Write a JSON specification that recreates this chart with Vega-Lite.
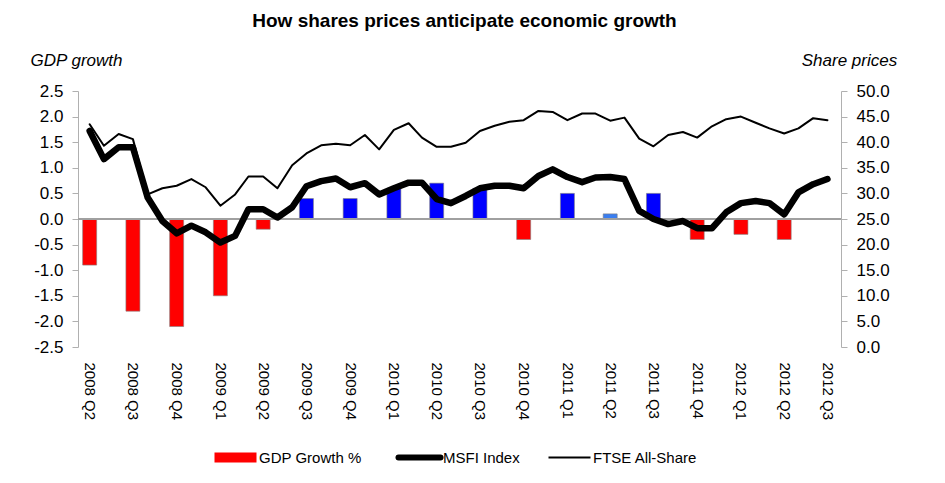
{
  "$schema": "https://vega.github.io/schema/vega-lite/v6.json",
  "width": 763,
  "height": 256,
  "padding": {"left": 29, "top": 12, "right": 10, "bottom": 5},
  "background": "white",
  "config": {
    "view": {"stroke": null},
    "font": "Liberation Sans",
    "locale": {"number": {"decimal": ".", "thousands": ",", "grouping": [3], "currency": ["", ""], "minus": "-"}},
    "axis": {"labelColor": "black", "titleColor": "black", "grid": false},
    "axisY": {
      "labelOverlap": false,
      "labelFlush": false,
      "domainColor": "#b0b0b0",
      "tickColor": "#b0b0b0",
      "tickSize": 6,
      "labelPadding": 9,
      "labelFont": "Liberation Sans",
      "labelFontSize": 17,
      "titleFont": "Liberation Sans",
      "titleFontSize": 17,
      "titleFontStyle": "italic",
      "titleFontWeight": "normal",
      "titleAngle": 0,
      "titleAlign": "center",
      "titleBaseline": "alphabetic"
    }
  },
  "title": {
    "text": "How shares prices anticipate economic growth",
    "font": "Liberation Sans",
    "fontSize": 19,
    "fontWeight": "bold",
    "color": "black",
    "offset": 20,
    "dx": 5
  },
  "datasets": {
    "gdp": [
      {"date": "2008-04-01T00:00:00", "gdp": -0.9},
      {"date": "2008-07-01T00:00:00", "gdp": -1.8},
      {"date": "2008-10-01T00:00:00", "gdp": -2.1},
      {"date": "2009-01-01T00:00:00", "gdp": -1.5},
      {"date": "2009-04-01T00:00:00", "gdp": -0.2},
      {"date": "2009-07-01T00:00:00", "gdp": 0.4},
      {"date": "2009-10-01T00:00:00", "gdp": 0.4},
      {"date": "2010-01-01T00:00:00", "gdp": 0.6},
      {"date": "2010-04-01T00:00:00", "gdp": 0.7},
      {"date": "2010-07-01T00:00:00", "gdp": 0.6},
      {"date": "2010-10-01T00:00:00", "gdp": -0.4},
      {"date": "2011-01-01T00:00:00", "gdp": 0.5},
      {"date": "2011-04-01T00:00:00", "gdp": 0.1},
      {"date": "2011-07-01T00:00:00", "gdp": 0.5},
      {"date": "2011-10-01T00:00:00", "gdp": -0.4},
      {"date": "2012-01-01T00:00:00", "gdp": -0.3},
      {"date": "2012-04-01T00:00:00", "gdp": -0.4}
    ],
    "prices": [
      {"date": "2008-04-01T00:00:00", "MSFI Index": 42.2, "FTSE All-Share": 43.5},
      {"date": "2008-05-01T00:00:00", "MSFI Index": 36.7, "FTSE All-Share": 39.3},
      {"date": "2008-06-01T00:00:00", "MSFI Index": 39.0, "FTSE All-Share": 41.6},
      {"date": "2008-07-01T00:00:00", "MSFI Index": 39.0, "FTSE All-Share": 40.6},
      {"date": "2008-08-01T00:00:00", "MSFI Index": 29.2, "FTSE All-Share": 29.8},
      {"date": "2008-09-01T00:00:00", "MSFI Index": 24.6, "FTSE All-Share": 31.0},
      {"date": "2008-10-01T00:00:00", "MSFI Index": 22.2, "FTSE All-Share": 31.5},
      {"date": "2008-11-01T00:00:00", "MSFI Index": 23.7, "FTSE All-Share": 32.8},
      {"date": "2008-12-01T00:00:00", "MSFI Index": 22.4, "FTSE All-Share": 31.2},
      {"date": "2009-01-01T00:00:00", "MSFI Index": 20.4, "FTSE All-Share": 27.6},
      {"date": "2009-02-01T00:00:00", "MSFI Index": 21.7, "FTSE All-Share": 29.8},
      {"date": "2009-03-01T00:00:00", "MSFI Index": 26.9, "FTSE All-Share": 33.3},
      {"date": "2009-04-01T00:00:00", "MSFI Index": 26.9, "FTSE All-Share": 33.3},
      {"date": "2009-05-01T00:00:00", "MSFI Index": 25.3, "FTSE All-Share": 31.0},
      {"date": "2009-06-01T00:00:00", "MSFI Index": 27.3, "FTSE All-Share": 35.5},
      {"date": "2009-07-01T00:00:00", "MSFI Index": 31.4, "FTSE All-Share": 37.8},
      {"date": "2009-08-01T00:00:00", "MSFI Index": 32.4, "FTSE All-Share": 39.4},
      {"date": "2009-09-01T00:00:00", "MSFI Index": 32.9, "FTSE All-Share": 39.7},
      {"date": "2009-10-01T00:00:00", "MSFI Index": 31.2, "FTSE All-Share": 39.4},
      {"date": "2009-11-01T00:00:00", "MSFI Index": 32.0, "FTSE All-Share": 41.4},
      {"date": "2009-12-01T00:00:00", "MSFI Index": 29.8, "FTSE All-Share": 38.6},
      {"date": "2010-01-01T00:00:00", "MSFI Index": 31.0, "FTSE All-Share": 42.4},
      {"date": "2010-02-01T00:00:00", "MSFI Index": 32.1, "FTSE All-Share": 43.7},
      {"date": "2010-03-01T00:00:00", "MSFI Index": 32.1, "FTSE All-Share": 40.9},
      {"date": "2010-04-01T00:00:00", "MSFI Index": 28.9, "FTSE All-Share": 39.1},
      {"date": "2010-05-01T00:00:00", "MSFI Index": 28.1, "FTSE All-Share": 39.1},
      {"date": "2010-06-01T00:00:00", "MSFI Index": 29.5, "FTSE All-Share": 39.9},
      {"date": "2010-07-01T00:00:00", "MSFI Index": 31.0, "FTSE All-Share": 42.2},
      {"date": "2010-08-01T00:00:00", "MSFI Index": 31.5, "FTSE All-Share": 43.2},
      {"date": "2010-09-01T00:00:00", "MSFI Index": 31.5, "FTSE All-Share": 44.0},
      {"date": "2010-10-01T00:00:00", "MSFI Index": 31.0, "FTSE All-Share": 44.3},
      {"date": "2010-11-01T00:00:00", "MSFI Index": 33.4, "FTSE All-Share": 46.1},
      {"date": "2010-12-01T00:00:00", "MSFI Index": 34.7, "FTSE All-Share": 45.9},
      {"date": "2011-01-01T00:00:00", "MSFI Index": 33.2, "FTSE All-Share": 44.3},
      {"date": "2011-02-01T00:00:00", "MSFI Index": 32.2, "FTSE All-Share": 45.6},
      {"date": "2011-03-01T00:00:00", "MSFI Index": 33.1, "FTSE All-Share": 45.6},
      {"date": "2011-04-01T00:00:00", "MSFI Index": 33.2, "FTSE All-Share": 44.2},
      {"date": "2011-05-01T00:00:00", "MSFI Index": 32.8, "FTSE All-Share": 44.8},
      {"date": "2011-06-01T00:00:00", "MSFI Index": 26.6, "FTSE All-Share": 40.7},
      {"date": "2011-07-01T00:00:00", "MSFI Index": 25.0, "FTSE All-Share": 39.2},
      {"date": "2011-08-01T00:00:00", "MSFI Index": 24.0, "FTSE All-Share": 41.4},
      {"date": "2011-09-01T00:00:00", "MSFI Index": 24.6, "FTSE All-Share": 42.0},
      {"date": "2011-10-01T00:00:00", "MSFI Index": 23.2, "FTSE All-Share": 40.9},
      {"date": "2011-11-01T00:00:00", "MSFI Index": 23.2, "FTSE All-Share": 43.1},
      {"date": "2011-12-01T00:00:00", "MSFI Index": 26.3, "FTSE All-Share": 44.5},
      {"date": "2012-01-01T00:00:00", "MSFI Index": 28.1, "FTSE All-Share": 45.0},
      {"date": "2012-02-01T00:00:00", "MSFI Index": 28.5, "FTSE All-Share": 43.8},
      {"date": "2012-03-01T00:00:00", "MSFI Index": 28.1, "FTSE All-Share": 42.7},
      {"date": "2012-04-01T00:00:00", "MSFI Index": 25.9, "FTSE All-Share": 41.7},
      {"date": "2012-05-01T00:00:00", "MSFI Index": 30.2, "FTSE All-Share": 42.7},
      {"date": "2012-06-01T00:00:00", "MSFI Index": 31.8, "FTSE All-Share": 44.7},
      {"date": "2012-07-01T00:00:00", "MSFI Index": 32.8, "FTSE All-Share": 44.3}
    ]
  },
  "layer": [
    {
      "data": {"name": "gdp"},
      "layer": [
        {
          "mark": {"type": "bar", "size": 14, "stroke": "#7f7f7f", "strokeWidth": 0.6},
          "encoding": {
            "x": {
              "field": "date",
              "type": "temporal",
              "scale": {"domain": [{"year": 2008, "month": 3, "date": 18}, {"year": 2012, "month": 7, "date": 19}]},
              "axis": {
                "format": "%Y Q%q",
                "tickCount": {"interval": "month", "step": 3},
                "labelAngle": 90,
                "domain": false,
                "ticks": false,
                "grid": false,
                "title": null,
                "labelFont": "Liberation Sans",
                "labelFontSize": 15,
                "labelPadding": 15,
                "labelOverlap": false,
                "labelFlush": false
              }
            },
            "y": {
              "field": "gdp",
              "type": "quantitative",
              "scale": {"domain": [-2.5, 2.5], "nice": false, "zero": false},
              "axis": {
                "values": [-2.5, -2, -1.5, -1, -0.5, 0, 0.5, 1, 1.5, 2, 2.5],
                "format": ".1f",
                "title": "GDP growth",
                "titleX": -2,
                "titleY": -26
              }
            },
            "color": {
              "condition": [
                {"test": "datum.gdp < 0", "value": "#FF0000"},
                {"test": "datum.gdp < 0.2", "value": "#3A7EF0"}
              ],
              "value": "#0000FF"
            }
          }
        },
        {
          "mark": {"type": "rule", "color": "#a0a0a0", "strokeWidth": 1.5},
          "encoding": {
            "y": {
              "datum": 0,
              "type": "quantitative",
              "axis": {
                "values": [-2.5, -2, -1.5, -1, -0.5, 0, 0.5, 1, 1.5, 2, 2.5],
                "format": ".1f",
                "title": "GDP growth",
                "titleX": -2,
                "titleY": -26
              }
            }
          }
        }
      ]
    },
    {
      "data": {"name": "prices"},
      "transform": [{"fold": ["MSFI Index", "FTSE All-Share"], "as": ["series", "value"]}],
      "mark": {"type": "line", "strokeJoin": "round", "strokeCap": "round"},
      "encoding": {
        "x": {"field": "date", "type": "temporal"},
        "y": {
          "field": "value",
          "type": "quantitative",
          "scale": {"domain": [0, 50], "nice": false},
          "axis": {
            "orient": "right",
            "values": [0, 5, 10, 15, 20, 25, 30, 35, 40, 45, 50],
            "format": ".1f",
            "title": "Share prices",
            "titleX": 8,
            "titleY": -26
          }
        },
        "color": {
          "field": "series",
          "type": "nominal",
          "scale": {"domain": ["GDP Growth %", "MSFI Index", "FTSE All-Share"], "range": ["#FF0000", "#000000", "#000000"]},
          "legend": {
            "title": null,
            "orient": "none",
            "direction": "horizontal",
            "gridAlign": "none",
            "legendX": 150,
            "legendY": 359,
            "symbolType": "stroke",
            "symbolSize": 1764,
            "symbolStrokeWidth": 2,
            "labelFont": "Liberation Sans",
            "labelFontSize": 15,
            "labelColor": "black",
            "labelOffset": 16,
            "columnPadding": 24,
            "encode": {
              "symbols": {
                "update": {
                  "strokeWidth": {"signal": "datum.value === 'GDP Growth %' ? 10 : datum.value === 'MSFI Index' ? 6 : 2"},
                  "strokeCap": {"signal": "datum.value === 'MSFI Index' ? 'round' : 'butt'"}
                }
              }
            }
          }
        },
        "strokeWidth": {
          "field": "series",
          "type": "nominal",
          "scale": {"domain": ["MSFI Index", "FTSE All-Share"], "range": [6.5, 2]},
          "legend": null
        }
      }
    }
  ],
  "resolve": {"scale": {"y": "independent"}}
}
